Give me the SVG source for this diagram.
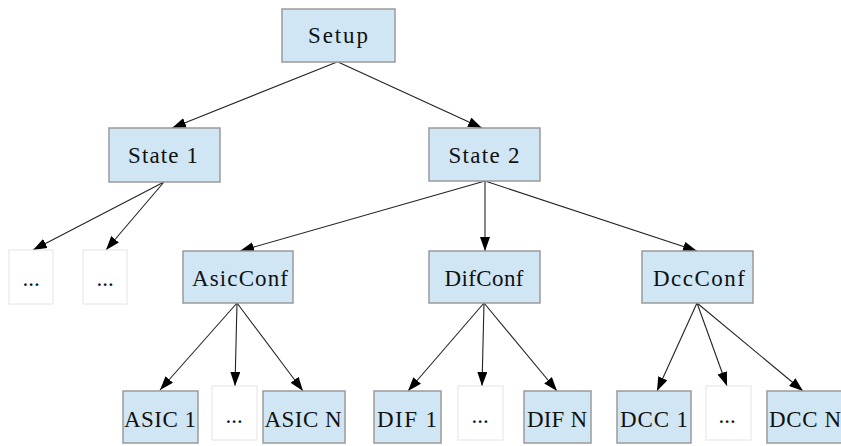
<svg xmlns="http://www.w3.org/2000/svg" width="841" height="446" viewBox="0 0 841 446">
<style>
  .n { fill: #d0e6f4; stroke: #9a9a9a; stroke-width: 1.5; }
  .d { fill: #ffffff; stroke: #e4e4e4; stroke-width: 1; }
  .t { font-family: "Liberation Serif", "Times New Roman", serif; font-size: 23px; fill: #111; text-anchor: middle; }
  .e { fill: none; stroke: #222; stroke-width: 1.1; marker-end: url(#ah); }
</style>
<defs>
  <marker id="ah" markerUnits="userSpaceOnUse" markerWidth="16" markerHeight="12" refX="14" refY="5" orient="auto">
    <path d="M0,0 L14,5 L0,10 Z" fill="#000"/>
  </marker>
</defs>
<rect width="841" height="446" fill="#fff"/>
<g id="connectors">
  <path class="e" d="M337,62 L172,128"/>
  <path class="e" d="M338,62 L482,128"/>
  <path class="e" d="M164,182 L33,250"/>
  <path class="e" d="M164,182 L106,250"/>
  <path class="e" d="M485,181 L240,251"/>
  <path class="e" d="M485,181 L485,251"/>
  <path class="e" d="M485,181 L697,251"/>
  <path class="e" d="M237,303 L160,390"/>
  <path class="e" d="M237,303 L235,386"/>
  <path class="e" d="M237,303 L303,391"/>
  <path class="e" d="M484,303 L408,391"/>
  <path class="e" d="M484,303 L482,386"/>
  <path class="e" d="M484,303 L557,391"/>
  <path class="e" d="M697,303 L657,391"/>
  <path class="e" d="M697,303 L727,386"/>
  <path class="e" d="M697,303 L803,391"/>
</g>
<g id="setup"><rect class="n" x="282" y="9" width="113" height="53"/><text class="t" x="338" y="43" textLength="60" lengthAdjust="spacing">Setup</text></g>
<g id="state1"><rect class="n" x="109" y="128" width="111" height="54"/><text class="t" x="163" y="163" textLength="70" lengthAdjust="spacing">State 1</text></g>
<g id="state2"><rect class="n" x="429" y="128" width="111" height="53"/><text class="t" x="484" y="163" textLength="71" lengthAdjust="spacing">State 2</text></g>
<g id="dots1"><rect class="d" x="9" y="250" width="44" height="54"/><text class="t" x="31" y="286">...</text></g>
<g id="dots2"><rect class="d" x="83" y="250" width="44" height="54"/><text class="t" x="105" y="286">...</text></g>
<g id="asicconf"><rect class="n" x="183" y="251" width="110" height="52"/><text class="t" x="240" y="286" textLength="96" lengthAdjust="spacing">AsicConf</text></g>
<g id="difconf"><rect class="n" x="429" y="251" width="111" height="52"/><text class="t" x="484" y="286" textLength="79" lengthAdjust="spacing">DifConf</text></g>
<g id="dccconf"><rect class="n" x="642" y="251" width="111" height="52"/><text class="t" x="699" y="286" textLength="92" lengthAdjust="spacing">DccConf</text></g>
<g id="asic1"><rect class="n" x="123" y="391" width="75" height="52"/><text class="t" x="160" y="427" textLength="72" lengthAdjust="spacing">ASIC 1</text></g>
<g id="asicdots"><rect class="d" x="212" y="386" width="45" height="54"/><text class="t" x="234" y="423">...</text></g>
<g id="asicn"><rect class="n" x="263" y="391" width="82" height="52"/><text class="t" x="303" y="427" textLength="77" lengthAdjust="spacing">ASIC N</text></g>
<g id="dif1"><rect class="n" x="374" y="391" width="67" height="52"/><text class="t" x="407" y="427" textLength="60" lengthAdjust="spacing">DIF 1</text></g>
<g id="difdots"><rect class="d" x="458" y="386" width="45" height="54"/><text class="t" x="480" y="423">...</text></g>
<g id="difn"><rect class="n" x="524" y="391" width="67" height="52"/><text class="t" x="557" y="427" textLength="60" lengthAdjust="spacing">DIF N</text></g>
<g id="dcc1"><rect class="n" x="617" y="391" width="74" height="52"/><text class="t" x="654" y="427" textLength="68" lengthAdjust="spacing">DCC 1</text></g>
<g id="dccdots"><rect class="d" x="706" y="386" width="45" height="54"/><text class="t" x="727" y="423">...</text></g>
<g id="dccn"><rect class="n" x="767" y="391" width="84" height="52"/><text class="t" x="805" y="427" textLength="72" lengthAdjust="spacing">DCC N</text></g>
</svg>
